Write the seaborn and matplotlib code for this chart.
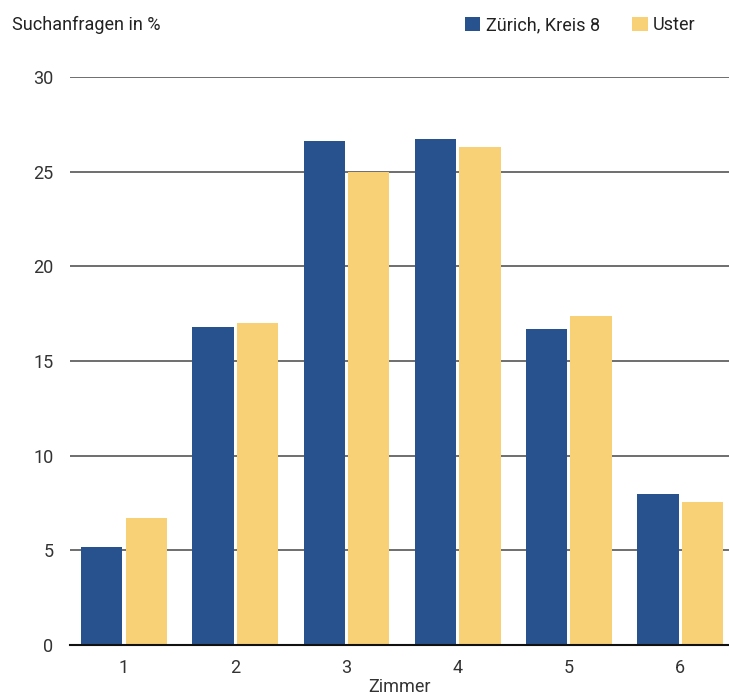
import matplotlib
matplotlib.use("Agg")
import matplotlib.pyplot as plt
import seaborn as sns
import pandas as pd
from matplotlib.patches import Patch

categories = ["1", "2", "3", "4", "5", "6"]
zuerich = [5.2, 16.8, 26.6, 26.75, 16.7, 8.0]
uster = [6.7, 17.0, 25.0, 26.3, 17.4, 7.55]
series_names = ["Zürich, Kreis 8", "Uster"]
colors = ["#28528e", "#f8d176"]
yticks = [0, 5, 10, 15, 20, 25, 30]

df = pd.DataFrame({
    "Zimmer": categories * 2,
    "value": zuerich + uster,
    "series": [series_names[0]] * len(categories) + [series_names[1]] * len(categories),
})

sns.set_style("white")
plt.rcParams["font.family"] = ["Roboto", "DejaVu Sans"]

fig = plt.figure(figsize=(7.29, 6.98), dpi=100)
ax = fig.add_axes([70 / 729, 1 - 645 / 698, 659 / 729, (645 - 77) / 698])

sns.barplot(data=df, x="Zimmer", y="value", hue="series", palette=colors,
            width=0.8, gap=0.07, ax=ax, legend=False, saturation=1, linewidth=0)

ax.set_ylim(0, 30)
ax.set_xlim(-0.486, 5.44)
ax.set_yticks(yticks)
ax.yaxis.grid(True, color="#555555", linewidth=1.2)
ax.set_axisbelow(True)
for s in ["top", "right", "left"]:
    ax.spines[s].set_visible(False)
ax.spines["bottom"].set_color("#111111")
ax.spines["bottom"].set_linewidth(1.5)
ax.tick_params(axis="both", length=0, labelsize=13, labelcolor="#333333")
ax.tick_params(axis="y", pad=12)
ax.tick_params(axis="x", pad=10)
ax.set_ylabel("")
ax.set_xlabel("Zimmer", fontsize=13, color="#333333", labelpad=1)

fig.text(12 / 729, 1 - 25 / 698, "Suchanfragen in %", fontsize=13, color="#222222",
         va="center", ha="left")

handles = [Patch(facecolor=c, edgecolor="none") for c in colors]
fig.legend(handles, series_names, loc="center right", bbox_to_anchor=(712 / 729, 1 - 25 / 698),
           ncol=2, frameon=False, fontsize=13, handlelength=0.85, handleheight=0.85,
           handletextpad=0.3, columnspacing=1.8, labelcolor="#222222")

fig.savefig("out.png", dpi=100)
